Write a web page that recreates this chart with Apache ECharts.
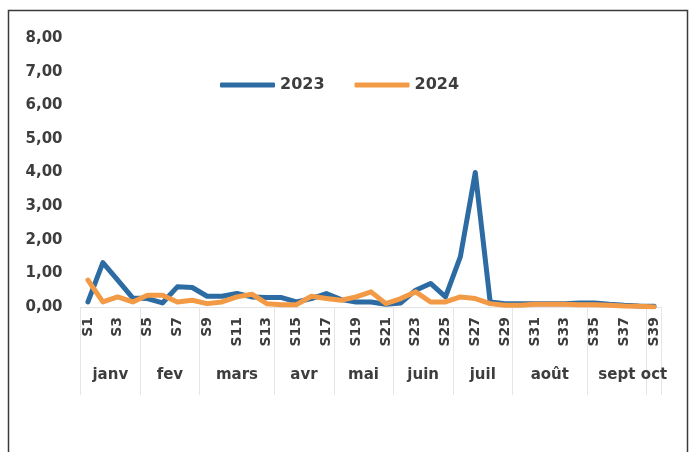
<!DOCTYPE html>
<html>
<head>
<meta charset="utf-8">
<script src="https://cdn.jsdelivr.net/npm/echarts@6/dist/echarts.min.js"></script>
<style>
  html, body { margin: 0; padding: 0; background: #fff; }
  #chart { width: 690px; height: 452px; }
</style>
</head>
<body>
<div id="chart"></div>
<script>
var weeks = [];
for (var w = 1; w <= 39; w++) {
  weeks.push('S' + w);
}

var values2023 = [
  0.15, 1.32, 0.80, 0.27, 0.25, 0.12, 0.60, 0.58, 0.32, 0.32,
  0.40, 0.30, 0.28, 0.28, 0.15, 0.25, 0.40, 0.22, 0.15, 0.15,
  0.08, 0.12, 0.50, 0.70, 0.30, 1.50, 4.00, 0.15, 0.10, 0.10,
  0.10, 0.10, 0.10, 0.12, 0.12, 0.08, 0.05, 0.03, 0.02
];

var values2024 = [
  0.80, 0.15, 0.30, 0.15, 0.35, 0.35, 0.15, 0.20, 0.10, 0.15,
  0.30, 0.38, 0.10, 0.07, 0.07, 0.32, 0.25, 0.20, 0.30, 0.45,
  0.10, 0.25, 0.45, 0.15, 0.15, 0.30, 0.25, 0.10, 0.05, 0.05,
  0.08, 0.08, 0.08, 0.07, 0.07, 0.05, 0.03, 0.02, 0.00
];

// month groups, as first and last week index (0-based)
var months = ['janv', 'fev', 'mars', 'avr', 'mai', 'juin', 'juil', 'août', 'sept', 'oct'];
var monthFirst = [0, 4, 8, 13, 17, 21, 25, 29, 34, 38];
var monthLast = [3, 7, 12, 16, 20, 24, 28, 33, 37, 38];

var textColor = '#3d3d3d';
var font = 'DejaVu Sans';

var monthCenters = months.map(function(_, i) {
  return (monthFirst[i] + monthLast[i]) / 2;
});
var monthBounds = monthFirst.map(function(f) { return f - 0.5; });
monthBounds.push(monthLast[monthLast.length - 1] + 0.5);

var gridBox = {left: 80.5, right: 28.5, top: 38, bottom: 145};

var chart = echarts.init(document.getElementById('chart'));
chart.setOption({
  animation: false,
  backgroundColor: '#fff',
  graphic: [{
    type: 'rect',
    shape: {x: 8.5, y: 10.5, width: 679, height: 470},
    style: {fill: 'none', stroke: '#3a3a3a', lineWidth: 1.5},
    silent: true
  }],
  legend: {
    left: 215, top: 72,
    itemWidth: 55, itemHeight: 5, itemGap: 30,
    icon: 'roundRect',
    data: ['2023', '2024'],
    textStyle: {fontFamily: font, fontWeight: 'bold', fontSize: 16, color: textColor}
  },
  grid: [
    Object.assign({}, gridBox),
    Object.assign({}, gridBox)
  ],
  xAxis: [{
    type: 'category',
    gridIndex: 0,
    data: weeks,
    boundaryGap: true,
    axisLine: {show: true, lineStyle: {color: '#e2e2e2', width: 1}},
    axisTick: {show: false},
    splitLine: {show: false},
    axisLabel: {
      interval: 1, rotate: 90, margin: 10,
      fontFamily: font, fontWeight: 'bold', fontSize: 14, color: textColor
    }
  }, {
    // month labels and separators
    type: 'value',
    gridIndex: 1,
    min: -0.5, max: 38.5,
    position: 'bottom',
    offset: 58,
    axisLine: {show: false},
    splitLine: {show: false},
    axisTick: {show: false},
    axisLabel: {
      customValues: monthCenters,
      margin: 3,
      fontFamily: font, fontWeight: 'bold', fontSize: 15, color: textColor,
      formatter: function(v) {
        var i = monthCenters.indexOf(v);
        return i >= 0 ? months[i] : '';
      }
    }
  }, {
    type: 'value',
    gridIndex: 1,
    min: -0.5, max: 38.5,
    position: 'bottom',
    axisLine: {show: false},
    splitLine: {show: false},
    axisLabel: {show: false},
    axisTick: {
      show: true, customValues: monthBounds, length: 88,
      lineStyle: {color: '#e6e6e6', width: 1}
    }
  }],
  yAxis: [{
    type: 'value',
    gridIndex: 0,
    min: 0, max: 8, interval: 1,
    axisLine: {show: false},
    axisTick: {show: false},
    splitLine: {show: false},
    axisLabel: {
      margin: 18,
      fontFamily: font, fontWeight: 'bold', fontSize: 15, color: textColor,
      formatter: function(v) { return v.toFixed(2).replace('.', ','); }
    }
  }, {
    type: 'value',
    gridIndex: 1,
    min: 0, max: 1,
    show: false
  }],
  series: [{
    name: '2023',
    type: 'line',
    xAxisIndex: 0, yAxisIndex: 0,
    data: values2023,
    symbol: 'none',
    color: '#2d6ba3',
    lineStyle: {width: 5, color: '#2d6ba3', cap: 'round', join: 'round'}
  }, {
    name: '2024',
    type: 'line',
    xAxisIndex: 0, yAxisIndex: 0,
    data: values2024,
    symbol: 'none',
    color: '#f29a45',
    lineStyle: {width: 5, color: '#f29a45', cap: 'round', join: 'round'}
  }]
});
</script>
</body>
</html>
